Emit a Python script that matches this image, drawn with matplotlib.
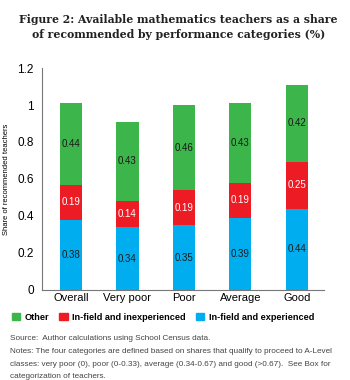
import matplotlib.pyplot as plt
import numpy as np
from matplotlib.patches import Patch

categories = ['Overall', 'Very poor', 'Poor', 'Average', 'Good']
experienced = [0.38, 0.34, 0.35, 0.39, 0.44]
inexperienced = [0.19, 0.14, 0.19, 0.19, 0.25]
other = [0.44, 0.43, 0.46, 0.43, 0.42]
yticks = [0, 0.2, 0.4, 0.6, 0.8, 1, 1.2]
ytick_labels = ['0', '0.2', '0.4', '0.6', '0.8', '1', '1.2']

blue = '#00aeef'
red = '#ed1c24'
green = '#3cb54a'
body = ['Liberation Sans', 'DejaVu Sans']

fig = plt.figure(figsize=(3.5, 3.8), dpi=100)
ax = fig.add_axes([0.12, 0.237, 0.806, 0.584])

x = np.arange(len(categories))
w = 0.39
exp = np.array(experienced)
inexp = np.array(inexperienced)
oth = np.array(other)

ax.bar(x, exp, w, color=blue)
ax.bar(x, inexp, w, bottom=exp, color=red)
ax.bar(x, oth, w, bottom=exp + inexp, color=green)

for i in range(len(categories)):
    ax.text(x[i], exp[i] / 2, f'{exp[i]:.2f}', ha='center', va='center',
            fontsize=7, family=body, color='#1a1a1a')
    ax.text(x[i], exp[i] + inexp[i] / 2, f'{inexp[i]:.2f}', ha='center',
            va='center', fontsize=7, family=body, color='white')
    ax.text(x[i], exp[i] + inexp[i] + oth[i] / 2, f'{oth[i]:.2f}',
            ha='center', va='center', fontsize=7, family=body,
            color='#1a1a1a')

ax.set_xlim(-0.513, 4.48)
ax.set_ylim(0, 1.2)
ax.set_yticks(yticks)
ax.set_yticklabels(ytick_labels, family=body, fontsize=8.5)
ax.set_xticks(x)
ax.set_xticklabels(categories, family=body, fontsize=8)
ax.tick_params(length=0, pad=6)
ax.tick_params(axis='x', pad=2)
for s in ['top', 'right']:
    ax.spines[s].set_visible(False)
for s in ['left', 'bottom']:
    ax.spines[s].set_color('#777777')
    ax.spines[s].set_linewidth(0.8)
ax.set_ylabel('Share of recommended teachers', family=body, fontsize=5.5)
ax.yaxis.set_label_coords(-0.113, 0.5)

fig.text(0.51, 1 - 27 / 380, 'Figure 2: Available mathematics teachers as a share\n'
         'of recommended by performance categories (%)',
         ha='center', va='center', fontsize=7.8, fontweight='bold',
         family='DejaVu Serif', linespacing=1.45, color='#222222')

handles = [Patch(color=green, label='Other'),
           Patch(color=red, label='In-field and inexperienced'),
           Patch(color=blue, label='In-field and experienced')]
fig.legend(handles=handles, loc='center left',
           bbox_to_anchor=(0.01, 1 - 317 / 380), ncol=3, frameon=False,
           handlelength=0.9, handleheight=0.9, handletextpad=0.5,
           columnspacing=1.1, prop={'family': body, 'size': 6.6,
                                    'weight': 'bold'})

notes = ('Source:  Author calculations using School Census data.\n'
         'Notes: The four categories are defined based on shares that qualify to proceed to A-Level\n'
         'classes: very poor (0), poor (0-0.33), average (0.34-0.67) and good (>0.67).  See Box for\n'
         'categorization of teachers.')
fig.text(0.028, 1 - 335 / 380, notes, ha='left', va='top', fontsize=5.9,
         family=body, color='#444444', linespacing=2.15)

fig.savefig('out.png', dpi=100)
